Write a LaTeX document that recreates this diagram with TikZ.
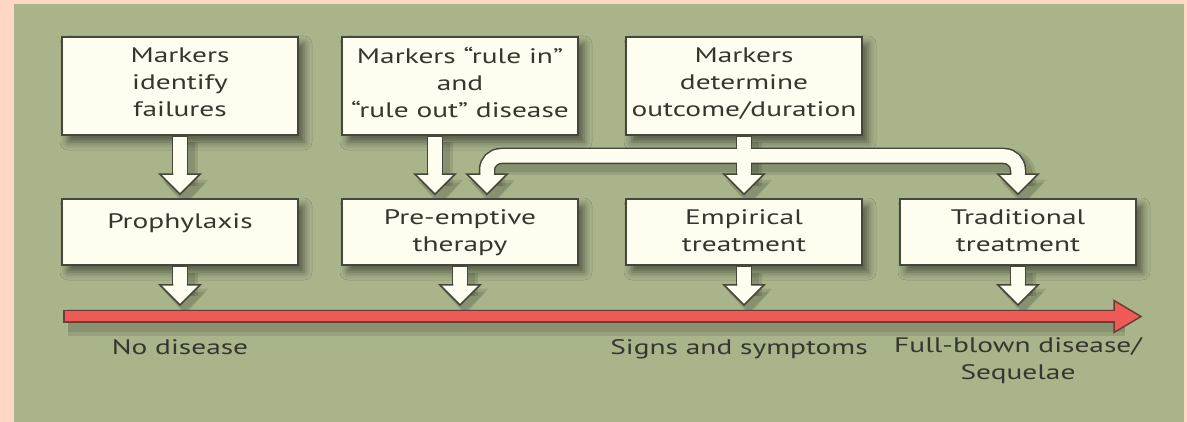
\documentclass[tikz,border=0pt]{standalone}
\usepackage{fontspec}
\setmainfont[FakeStretch=1.4]{PT Sans}
\usetikzlibrary{calc,shadows.blur}
\definecolor{peach}{HTML}{FED8C2}
\definecolor{panel}{HTML}{A9B48B}
\definecolor{cream}{HTML}{FDFDF0}
\definecolor{ink}{HTML}{36362E}
\definecolor{edge}{HTML}{46463A}
\definecolor{barred}{HTML}{EE5B57}
\definecolor{baredge}{HTML}{6A3E34}
\newcommand\txtfont{\fontsize{21}{27}\selectfont}
\newcommand\headfill[1]{\fill[cream] ($(#1)+(-20,-20)$) -- (#1) -- ($(#1)+(20,-20)$) -- cycle;}
\newcommand\headline[1]{\draw[edge,line width=1.5pt,line join=miter] ($(#1)+(-6.75,-20)$) -- ($(#1)+(-20,-20)$) -- (#1) -- ($(#1)+(20,-20)$) -- ($(#1)+(6.75,-20)$);}
\tikzset{
  x=1pt, y=-1pt,
  box/.style={draw=edge, line width=1.5pt, fill=cream, minimum width=236pt, text=ink,
    align=center, inner sep=0pt, font=\txtfont,
    execute at begin node=\strut, execute at end node=\strut,
    blur shadow={shadow xshift=6pt, shadow yshift=-7pt, shadow blur radius=8pt, shadow opacity=50}},
  topbox/.style={box, minimum height=98pt},
  lowbox/.style={box, minimum height=66pt},
  lowtext/.style={text=ink, align=center, inner sep=0pt, font=\txtfont, anchor=north,
    execute at begin node=\strut, execute at end node=\strut},
  label/.style={text=ink, align=center, inner sep=0pt, font=\txtfont,
    execute at begin node=\strut, execute at end node=\strut},
  shaftdark/.style={draw=edge, line width=16.5pt},
  shaftlight/.style={draw=cream, line width=13.5pt},
}
\begin{document}
\begin{tikzpicture}
\useasboundingbox (0,0) rectangle (1187,422);
\fill[peach] (0,0) rectangle (1187,422);
\fill[panel] (14,4) rectangle (1184,422);

% arrow shadows
\begin{scope}[shift={(5,6)}, black, opacity=0.10]
  \foreach \w in {26,20}{
    \draw[line width=\w pt] (180,136) -- (180,180);
    \draw[line width=\w pt] (435,136) -- (435,180);
    \draw[line width=\w pt] (744,136) -- (744,180);
    \draw[line width=\w pt, rounded corners=14pt] (487,180) |- (1018,156) -- (1018,180);
    \foreach \x in {180,460,744,1018} \draw[line width=\w pt] (\x,267) -- (\x,290);
    \draw[line width=\w pt] (63,316.5) -- (1120,316.5);
  }
  \foreach \x/\y in {180/197,435/197,487/197,744/197,1018/197,180/306,460/306,744/306,1018/306}{
    \fill (\x-23,\y-23) -- (\x,\y+3) -- (\x+23,\y-23) -- cycle;
    \fill (\x-20,\y-20) -- (\x,\y) -- (\x+20,\y-20) -- cycle;
  }
\end{scope}

% boxes
\node[topbox] (b1) at (180,86) {Markers\\identify\\failures};
\node[topbox] (b2) at (460,86) {Markers “rule in”\\and\\“rule out” disease};
\node[topbox] (b3) at (744,86) {Markers\\determine\\outcome/duration};
\node[lowbox] (p1) at (180,232) {};
\node[lowbox] (p2) at (460,232) {};
\node[lowbox] (p3) at (744,232) {};
\node[lowbox] (p4) at (1018,232) {};
\node[lowtext] (p1t) at ([yshift=23pt]p1.center) {Prophylaxis};
\node[lowtext] (p2t) at ([yshift=23pt]p2.center) {Pre-emptive\\therapy};
\node[lowtext] (p3t) at ([yshift=23pt]p3.center) {Empirical\\treatment};
\node[lowtext] (p4t) at ([yshift=23pt]p4.center) {Traditional\\treatment};

% arrow end points
\coordinate (t1) at ([yshift=4pt]p1.north);
\coordinate (t2) at ([xshift=-25pt,yshift=4pt]p2.north);
\coordinate (tl) at ([xshift=27pt,yshift=4pt]p2.north);
\coordinate (t3) at ([yshift=4pt]p3.north);
\coordinate (tr) at ([yshift=4pt]p4.north);
\coordinate (bar) at (0,156);
\coordinate (u1) at (p1.south |- 0,305);
\coordinate (u2) at (p2.south |- 0,305);
\coordinate (u3) at (p3.south |- 0,305);
\coordinate (u4) at (p4.south |- 0,305);
\coordinate (rs) at (63,316.5);
\coordinate (re) at (1141,316.5);

% red time line
\draw[draw=baredge, line width=13pt] (rs) -- ($(re)+(-27,0)$);
\fill[barred, draw=baredge, line width=1.5pt, line join=miter]
  ($(re)+(-27,-16)$) -- (re) -- ($(re)+(-27,16)$) -- cycle;
\draw[draw=barred, line width=10pt] ($(rs)+(1.5,0)$) -- ($(re)+(-26,0)$);

% dark shafts
\draw[shaftdark] (b1.south) -- ($(t1)+(0,-20)$);
\draw[shaftdark] (b2.south -| t2) -- ($(t2)+(0,-20)$);
\draw[shaftdark] (b3.south) -- ($(t3)+(0,-20)$);
\draw[shaftdark, rounded corners=14pt] ($(tl)+(0,-20)$) |- (tr |- bar) -- ($(tr)+(0,-20)$);
\draw[shaftdark] (p1.south) -- ($(u1)+(0,-20)$);
\draw[shaftdark] (p2.south) -- ($(u2)+(0,-20)$);
\draw[shaftdark] (p3.south) -- ($(u3)+(0,-20)$);
\draw[shaftdark] (p4.south) -- ($(u4)+(0,-20)$);
% head fills
\headfill{t1}\headfill{t2}\headfill{tl}\headfill{t3}\headfill{tr}
\headfill{u1}\headfill{u2}\headfill{u3}\headfill{u4}
% light shafts
\draw[shaftlight] ([yshift=-1pt]b1.south) -- ($(t1)+(0,-19)$);
\draw[shaftlight] ([yshift=-1pt]b2.south -| t2) -- ($(t2)+(0,-19)$);
\draw[shaftlight] ([yshift=-1pt]b3.south) -- ($(t3)+(0,-19)$);
\draw[shaftlight, rounded corners=14pt] ($(tl)+(0,-19)$) |- (tr |- bar) -- ($(tr)+(0,-19)$);
\draw[shaftlight] ([yshift=-1pt]p1.south) -- ($(u1)+(0,-19)$);
\draw[shaftlight] ([yshift=-1pt]p2.south) -- ($(u2)+(0,-19)$);
\draw[shaftlight] ([yshift=-1pt]p3.south) -- ($(u3)+(0,-19)$);
\draw[shaftlight] ([yshift=-1pt]p4.south) -- ($(u4)+(0,-19)$);
% head outlines
\headline{t1}\headline{t2}\headline{tl}\headline{t3}\headline{tr}
\headline{u1}\headline{u2}\headline{u3}\headline{u4}

% labels
\node[label] (l1) at (180,349) {No disease};
\node[label] (l2) at (739,349) {Signs and symptoms};
\node[label] (l3) at (1018,363) {Full-blown disease/\\Sequelae};
\end{tikzpicture}
\end{document}
